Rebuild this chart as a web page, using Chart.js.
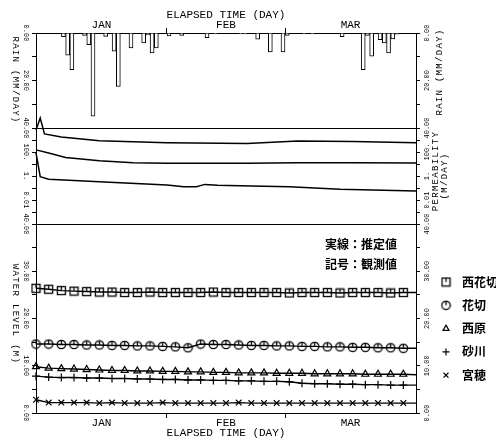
<!DOCTYPE html>
<html>
<head>
<meta charset="utf-8">
<script src="https://cdn.jsdelivr.net/npm/chart.js@4/dist/chart.umd.min.js"></script>
<style>
  html, body { margin: 0; padding: 0; background: #fff; }
  canvas { display: block; }
</style>
</head>
<body>
<canvas id="myChart" width="496" height="442"></canvas>
<script>
// day 0 = Jan 1
const monthTicks = [0, 15.5, 31, 45, 59, 74.5, 90];
const monthLabels = ["", "JAN", "", "FEB", "", "MAR", ""];

// rain (mm/day), one bar per day
const rainDays = [6, 7, 8, 11, 12, 13, 16, 18, 19, 22, 25, 26, 27, 28, 31, 34, 40, 42, 48, 49, 52, 55, 58, 59, 63, 65, 72, 77, 78, 79, 81, 82, 83, 84, 85];
const rainValues = [1.5, 9.3, 15.4, 1.0, 4.9, 35.0, 1.4, 7.7, 22.5, 6.3, 4.2, 0.8, 8.4, 6.3, 1.2, 1.0, 2.0, 0.4, 0.4, 0.4, 2.6, 8.0, 8.0, 1.0, 0.4, 0.4, 1.5, 15.4, 1.0, 9.8, 2.8, 4.2, 8.4, 2.5, 0.5];
const rainTicks = [0, 10, 20, 30, 40];
const rainTickLabels = ["0.00", "", "20.00", "", "40.00"];

// permeability (m/day), estimated
const permDaysA = [0, 1, 2, 6, 15, 31, 50, 62, 75, 90];
const permA = [6800, 68000, 3200, 1800, 870, 600, 510, 830, 750, 600];
const permDaysB = [0, 3, 7, 15, 23, 31, 50, 62, 75, 90];
const permB = [150, 83, 35, 19, 13, 11.5, 11.5, 13, 12.8, 12];
const permDaysC = [0, 1, 3, 15, 31, 35, 38, 40, 43, 51, 60, 72, 90];
const permC = [83, 0.87, 0.53, 0.33, 0.18, 0.13, 0.13, 0.2, 0.17, 0.15, 0.13, 0.078, 0.056];
const permTicks = [0.0001, 0.001, 0.01, 0.1, 1, 10, 100, 1000, 10000];
const permTickLabels = ["", "", "0.01", "", "1.", "", "100.", "", ""];

// water level (m)
const levelDays = [0, 3, 6, 9, 12, 15, 18, 21, 24, 27, 30, 33, 36, 39, 42, 45, 48, 51, 54, 57, 60, 63, 66, 69, 72, 75, 78, 81, 84, 87, 90];
const stations = ["西花切", "花切", "西原", "砂川", "宮穂"];
const levelNishiHanakiri = [26.4, 26.2, 25.9, 25.8, 25.7, 25.6, 25.6, 25.5, 25.5, 25.6, 25.5, 25.5, 25.5, 25.5, 25.6, 25.5, 25.5, 25.5, 25.5, 25.5, 25.4, 25.5, 25.5, 25.5, 25.4, 25.5, 25.5, 25.5, 25.4, 25.5, 25.5];
const levelHanakiri = [14.6, 14.6, 14.5, 14.5, 14.4, 14.4, 14.3, 14.3, 14.2, 14.2, 14.1, 14.0, 13.8, 14.6, 14.5, 14.5, 14.4, 14.3, 14.3, 14.2, 14.2, 14.1, 14.1, 14.0, 14.0, 13.9, 13.9, 13.8, 13.8, 13.7, 13.7];
const levelNishihara = [9.8, 9.5, 9.4, 9.3, 9.2, 9.1, 9.0, 9.0, 8.9, 8.9, 8.8, 8.8, 8.7, 8.7, 8.6, 8.6, 8.5, 8.5, 8.5, 8.4, 8.4, 8.4, 8.3, 8.3, 8.3, 8.3, 8.2, 8.2, 8.2, 8.2, 8.1];
const levelSunagawa = [7.8, 7.6, 7.5, 7.5, 7.4, 7.4, 7.3, 7.3, 7.2, 7.2, 7.1, 7.1, 7.0, 7.0, 6.9, 6.9, 6.8, 6.8, 6.7, 6.7, 6.6, 6.3, 6.2, 6.2, 6.1, 6.1, 6.0, 6.0, 5.9, 5.9, 5.9];
const levelMiyaho = [2.8, 2.2, 2.2, 2.2, 2.2, 2.1, 2.2, 2.1, 2.1, 2.1, 2.2, 2.1, 2.1, 2.1, 2.1, 2.1, 2.2, 2.1, 2.1, 2.1, 2.1, 2.1, 2.1, 2.1, 2.1, 2.1, 2.1, 2.1, 2.1, 2.1, 2.1];
const levelTicks = [0, 5, 10, 15, 20, 25, 30, 35, 40];
const levelTickLabels = ["0.00", "", "10.00", "", "20.00", "", "30.00", "", "40.00"];

const MONO = "'Liberation Mono', 'DejaVu Sans Mono', monospace";
const CJK = "'Noto Sans CJK JP', 'Noto Sans CJK SC', sans-serif";

function pairs(xs, ys) {
  return xs.map((x, i) => ({ x: x, y: ys[i] }));
}

// square / circle marker with a short tick at the top
function markCanvas(shape) {
  const c = document.createElement("canvas");
  c.width = 11;
  c.height = 11;
  const g = c.getContext("2d");
  g.strokeStyle = "#000";
  g.lineWidth = 1.3;
  if (shape === "square") {
    g.strokeRect(1.5, 1.5, 8, 8);
  } else {
    g.beginPath();
    g.arc(5.5, 5.5, 4.2, 0, Math.PI * 2);
    g.stroke();
  }
  g.beginPath();
  g.moveTo(5.5, 1.5);
  g.lineTo(5.5, 5.5);
  g.stroke();
  return c;
}

const markers = [markCanvas("square"), markCanvas("circle"), "triangle", "cross", "crossRot"];
const levelSeries = [levelNishiHanakiri, levelHanakiri, levelNishihara, levelSunagawa, levelMiyaho];

function levelDataset(i) {
  return {
    type: "line",
    label: stations[i],
    data: pairs(levelDays, levelSeries[i]),
    xAxisID: "x",
    yAxisID: "yLevel",
    borderColor: "#000",
    borderWidth: 1.4,
    pointStyle: markers[i],
    pointRadius: (ctx) => (ctx.dataIndex === levelDays.length - 1 ? 0 : 4),
    pointBorderColor: "#000",
    pointBackgroundColor: "rgba(0,0,0,0)",
    pointBorderWidth: 1.2,
    tension: 0,
    clip: false,
  };
}

function permDataset(xs, ys) {
  return {
    type: "line",
    data: pairs(xs, ys),
    xAxisID: "x",
    yAxisID: "yPerm",
    borderColor: "#000",
    borderWidth: 1.5,
    pointRadius: 0,
    tension: 0,
    clip: false,
  };
}

// one of the stacked y axes, left or right
function sideAxis(position, weight, stackWeight, ticks, labels, pad, extra) {
  const left = position === "left";
  return Object.assign({
    position: position,
    stack: position,
    stackWeight: stackWeight,
    weight: weight,
    afterBuildTicks: (s) => { s.ticks = ticks.map((v) => ({ value: v })); },
    border: { display: true, color: "#000", width: 1 },
    grid: { drawOnChartArea: false, tickLength: 4, tickColor: "#000" },
    ticks: {
      autoSkip: false,
      minRotation: left ? -90 : 90,
      maxRotation: left ? -90 : 90,
      crossAlign: "center",
      padding: pad,
      color: "#000",
      font: { family: MONO, size: 7 },
      callback: (v, i) => labels[i],
    },
    afterFit: (s) => { s.width = left ? 36 : 80; },
  }, extra);
}

function frameGrid(value) {
  return {
    drawOnChartArea: true,
    tickLength: 4,
    tickColor: "#000",
    lineWidth: 1,
    color: (ctx) => (ctx.tick && ctx.tick.value === value ? "#000" : "rgba(0,0,0,0)"),
  };
}

function monthAxis(position) {
  const top = position === "top";
  return {
    type: "linear",
    position: position,
    min: 0,
    max: 90,
    offset: false,
    afterBuildTicks: (s) => { s.ticks = monthTicks.map((v) => ({ value: v })); },
    border: { display: true, color: "#000", width: 1 },
    grid: {
      drawOnChartArea: false,
      offset: false,
      tickLength: 5,
      tickColor: (ctx) => (ctx.index > 0 && ctx.index < monthTicks.length - 1 && monthLabels[ctx.index] === "" ? "#000" : "rgba(0,0,0,0)"),
    },
    ticks: {
      autoSkip: false,
      maxRotation: 0,
      padding: top ? -4 : -2,
      color: "#000",
      font: { family: MONO, size: 11 },
      callback: (v, i) => monthLabels[i],
    },
    title: {
      display: true,
      text: "ELAPSED TIME (DAY)",
      color: "#000",
      font: { family: MONO, size: 11 },
      padding: top ? { top: 8, bottom: 0 } : { top: 0, bottom: 2 },
    },
    afterFit: (s) => { s.height = top ? 33 : 29; },
  };
}

// axis titles, notes and station legend
const textPlugin = {
  id: "texts",
  afterDraw(chart) {
    const ctx = chart.ctx;
    ctx.save();
    ctx.fillStyle = "#000";
    ctx.strokeStyle = "#000";
    ctx.textAlign = "center";
    ctx.textBaseline = "middle";
    ctx.font = "9px " + MONO;
    ctx.letterSpacing = "1.3px";
    const vtext = (t, x, y, rot) => {
      ctx.save();
      ctx.translate(x, y);
      ctx.rotate(rot);
      ctx.fillText(t, 0, 0);
      ctx.restore();
    };
    vtext("RAIN (MM/DAY)", 15, 80, Math.PI / 2);
    vtext("WATER LEVEL (M)", 15, 314, Math.PI / 2);
    vtext("RAIN (MM/DAY)", 440, 72, -Math.PI / 2);
    vtext("PERMEABILITY", 436, 171, -Math.PI / 2);
    vtext("(M/DAY)", 445, 176, -Math.PI / 2);
    ctx.letterSpacing = "0px";

    ctx.textAlign = "left";
    ctx.font = "bold 12px " + CJK;
    ctx.fillText("実線：推定値", 325, 244);
    ctx.fillText("記号：観測値", 325, 264);

    const levelSets = chart.data.datasets.filter((d) => d.yAxisID === "yLevel");
    levelSets.forEach((d, i) => {
      const y = 282 + i * 23.3;
      ctx.lineWidth = 1.2;
      if (Chart.helpers && Chart.helpers.drawPoint) {
        ctx.save();
        ctx.fillStyle = "rgba(0,0,0,0)";
        Chart.helpers.drawPoint(ctx, { pointStyle: d.pointStyle, rotation: 0, radius: 3.5, borderWidth: 1.2 }, 446, y);
        ctx.restore();
      }
      ctx.fillText(d.label, 462, y);
    });
    ctx.restore();
  },
};

const datasets = [
  {
    type: "bar",
    data: pairs(rainDays.map((d) => d + 0.5), rainValues),
    xAxisID: "x",
    yAxisID: "yRain",
    backgroundColor: "#fff",
    borderColor: "#000",
    borderWidth: 1,
    barThickness: 4,
  },
  permDataset(permDaysA, permA),
  permDataset(permDaysB, permB),
  permDataset(permDaysC, permC),
];
stations.forEach((s, i) => datasets.push(levelDataset(i)));

var myChart = new Chart("myChart", {
  type: "line",
  data: { datasets: datasets },
  plugins: [textPlugin],
  options: {
    responsive: false,
    animation: false,
    layout: { padding: 0 },
    plugins: { legend: { display: false }, tooltip: { enabled: false } },
    scales: {
      x: monthAxis("bottom"),
      x2: monthAxis("top"),
      yRain: sideAxis("left", 3, 95, rainTicks, rainTickLabels, -4.5, {
        type: "linear", min: 0, max: 40, reverse: true, grid: frameGrid(40),
      }),
      yPerm: sideAxis("left", 2, 96, permTicks, permTickLabels, -2.4, {
        type: "logarithmic", min: 0.0001, max: 10000,
      }),
      yLevel: sideAxis("left", 1, 189, levelTicks, levelTickLabels, -4.5, {
        type: "linear", min: 0, max: 40, grid: frameGrid(40),
      }),
      yRainR: sideAxis("right", 1, 95, rainTicks, rainTickLabels, -3.5, {
        type: "linear", min: 0, max: 40, reverse: true,
      }),
      yPermR: sideAxis("right", 2, 96, permTicks, permTickLabels, -1.4, {
        type: "logarithmic", min: 0.0001, max: 10000,
      }),
      yLevelR: sideAxis("right", 3, 189, levelTicks, levelTickLabels, -3.5, {
        type: "linear", min: 0, max: 40,
      }),
    },
  },
});
</script>
</body>
</html>
